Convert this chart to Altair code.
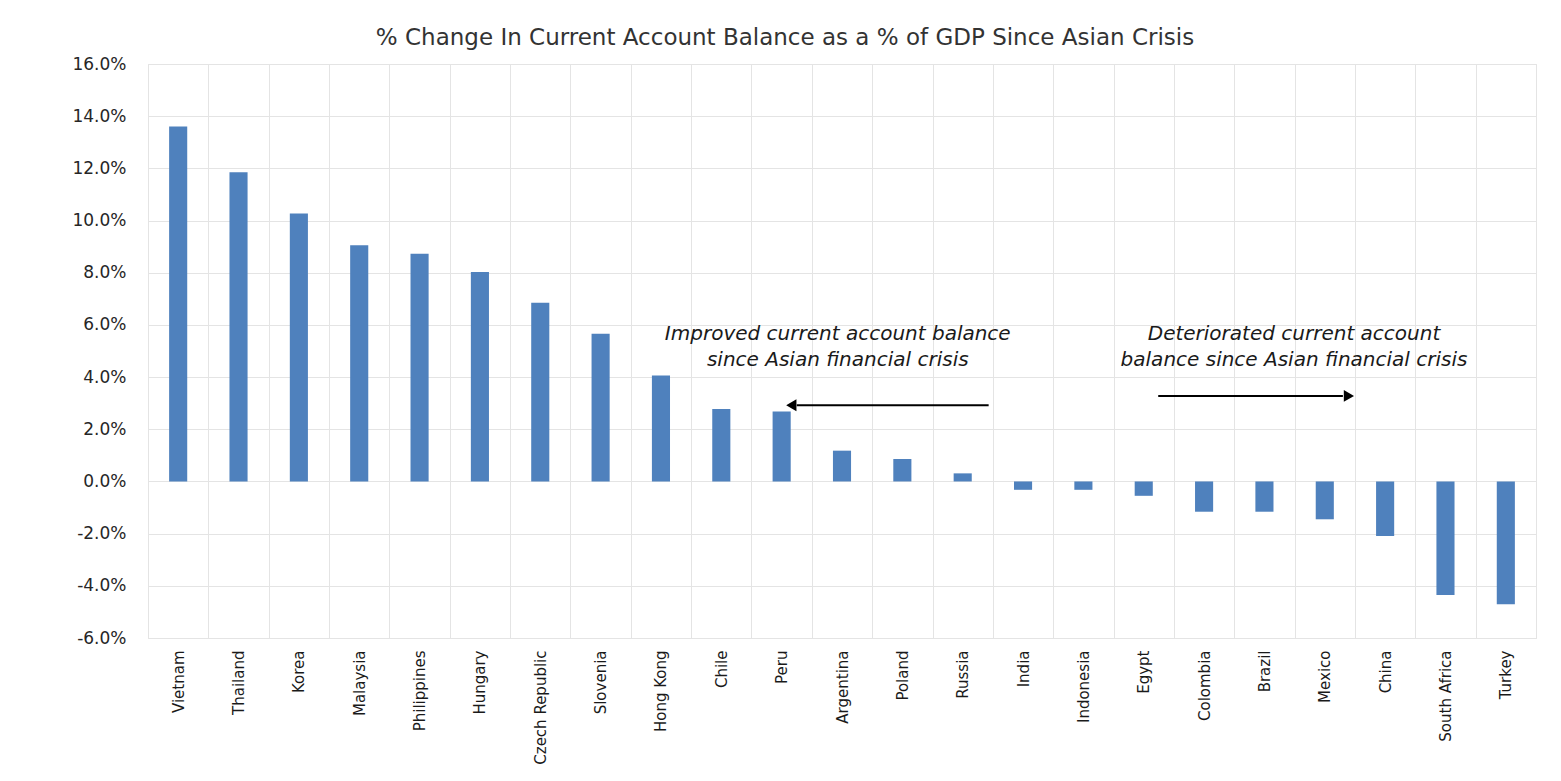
import altair as alt
import pandas as pd

countries = ["Vietnam", "Thailand", "Korea", "Malaysia", "Philippines", "Hungary",
             "Czech Republic", "Slovenia", "Hong Kong", "Chile", "Peru", "Argentina",
             "Poland", "Russia", "India", "Indonesia", "Egypt", "Colombia", "Brazil",
             "Mexico", "China", "South Africa", "Turkey"]
values = [13.6, 11.85, 10.27, 9.05, 8.73, 8.03, 6.85, 5.66, 4.06, 2.78, 2.68, 1.18,
          0.86, 0.31, -0.32, -0.32, -0.55, -1.16, -1.16, -1.45, -2.09, -4.35, -4.71]
y_ticks = [-6, -4, -2, 0, 2, 4, 6, 8, 10, 12, 14, 16]

# annotation positions, in category units (0 = left edge, 23 = right edge) and % values
note_x = [11.43, 11.43, 18.99, 18.99]
note_y = [5.65, 4.65, 5.65, 4.65]
note_text = ["Improved current account balance", "since Asian financial crisis",
             "Deteriorated current account", "balance since Asian financial crisis"]
arrow_start = [13.93, 16.74]
arrow_end = [10.75, 19.80]
arrow_y = [2.92, 3.28]
head_x = [10.66, 19.90]
head_shape = ["triangle-left", "triangle-right"]

df = pd.DataFrame({"country": countries, "value": values})
notes = pd.DataFrame({"x": note_x, "y": note_y, "t": note_text})
arrows = pd.DataFrame({"x": arrow_start, "x2": arrow_end, "y": arrow_y})
heads = pd.DataFrame({"x": head_x, "y": arrow_y, "shape": head_shape})

grid_color = "#e4e4e4"
yscale = alt.Scale(domain=[-6, 16], nice=False, zero=False)
qx = alt.Scale(domain=[0, 23], nice=False, zero=False)
yaxis = alt.Axis(title=None, values=y_ticks,
                 labelExpr="replace(format(datum.value, '.1f'), '\u2212', '-') + '%'",
                 labelFont="DejaVu Sans", labelFontSize=17, labelColor="#262626",
                 labelPadding=22, ticks=False, domain=False, grid=True,
                 gridColor=grid_color)

bars = alt.Chart(df).mark_bar(color="#4F81BD", width=alt.RelativeBandSize(0.3)).encode(
    x=alt.X("country:N", sort=countries,
            scale=alt.Scale(paddingInner=0, paddingOuter=0),
            axis=alt.Axis(title=None, labelAngle=270, labelFont="DejaVu Sans",
                          labelFontSize=15, labelColor="#1a1a1a", labelPadding=12,
                          ticks=False, domain=False, grid=True, gridColor=grid_color,
                          tickBand="extent", labelOverlap=False)),
    y=alt.Y("value:Q", scale=yscale, axis=yaxis),
)

text = alt.Chart(notes).mark_text(font="DejaVu Sans", fontStyle="italic", fontSize=20,
                                  color="#1a1a1a", baseline="middle", align="center").encode(
    x=alt.X("x:Q", scale=qx, axis=None),
    y=alt.Y("y:Q", scale=yscale, axis=yaxis),
    text="t:N",
)

lines = alt.Chart(arrows).mark_rule(color="#000000", strokeWidth=2).encode(
    x=alt.X("x:Q", scale=qx, axis=None),
    x2="x2:Q",
    y=alt.Y("y:Q", scale=yscale, axis=yaxis),
)

tips = alt.Chart(heads).mark_point(filled=True, color="#000000", size=140, opacity=1).encode(
    x=alt.X("x:Q", scale=qx, axis=None),
    y=alt.Y("y:Q", scale=yscale, axis=yaxis),
    shape=alt.Shape("shape:N", scale=None, legend=None),
)

chart = alt.layer(bars, text, lines, tips).resolve_scale(x="independent").properties(
    width=1388,
    height=574,
    autosize=alt.AutoSizeParams(type="none"),
    padding={"left": 140, "top": 56, "right": 17, "bottom": 135},
    title=alt.TitleParams(
        "% Change In Current Account Balance as a % of GDP Since Asian Crisis",
        font="DejaVu Sans", fontSize=23, fontWeight="normal", color="#333333",
        anchor="middle", frame="group", dx=-57, offset=5),
).configure_view(stroke=grid_color).configure(background="white")

chart.save("out.html", embed_options={"renderer": "svg", "actions": False})
